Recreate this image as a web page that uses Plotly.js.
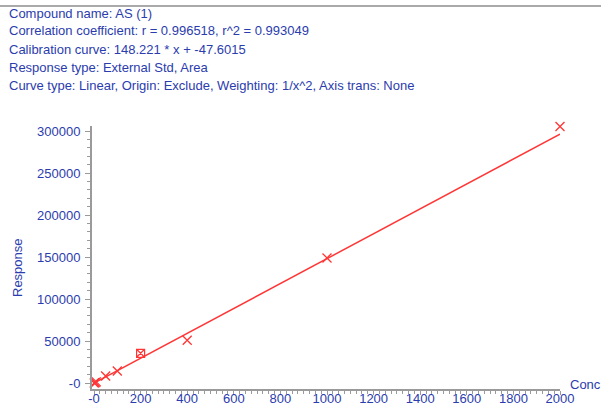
<!DOCTYPE html>
<html><head><meta charset="utf-8">
<script src="https://cdn.plot.ly/plotly-3.0.1.min.js"></script>
<style>html,body{margin:0;padding:0;background:#fff}#chart{width:601px;height:407px}</style>
</head><body><div id="chart"></div>
<script>
// Calibration standards
const conc = [1, 5, 10, 50, 100, 400, 1000, 2000];
const response = [180, 700, 1500, 8500, 14500, 51000, 149000, 305500];
// Point shown with square marker
const concSq = [200];
const respSq = [35500];
// Fitted calibration line endpoints (148.221 * x + -47.6015)
const fitX = [0, 2000];
const fitY = [-47.6015, 296394.4];
// Ticks
const xTickVals = [0, 200, 400, 600, 800, 1000, 1200, 1400, 1600, 1800, 2000];
const xTickText = ['-0', '200', '400', '600', '800', '1000', '1200', '1400', '1600', '1800', '2000'];
const yTickVals = [0, 50000, 100000, 150000, 200000, 250000, 300000];
const yTickText = ['-0', '50000', '100000', '150000', '200000', '250000', '300000'];
const headerLines = [
  'Compound name: AS (1)',
  'Correlation coefficient: r = 0.996518, r^2 = 0.993049',
  'Calibration curve: 148.221 * x + -47.6015',
  'Response type: External Std, Area',
  'Curve type: Linear, Origin: Exclude, Weighting: 1/x^2, Axis trans: None'
];

const BLUE = '#2b3cae';
const RED = '#ff3535';
const FONT = 'Liberation Sans, Arial, sans-serif';
// plot area in pixels
const L = 92, R = 560, T = 126, B = 389;
const px2paperX = p => (p - L) / (R - L);
const px2paperY = p => (B - p) / (B - T);

const annotations = headerLines.map((t, i) => ({
  text: t, xref: 'paper', yref: 'paper',
  x: px2paperX(7), y: px2paperY(13 + i * 18),
  xanchor: 'left', yanchor: 'middle', showarrow: false,
  font: {family: FONT, size: 13, color: BLUE}
}));
annotations.push({
  text: 'Conc', xref: 'paper', yref: 'paper',
  x: px2paperX(568), y: px2paperY(384), xanchor: 'left', yanchor: 'middle',
  showarrow: false, font: {family: FONT, size: 13, color: BLUE}
});
annotations.push({
  text: 'Response', xref: 'paper', yref: 'paper', textangle: -90,
  x: px2paperX(17), y: px2paperY(268), xanchor: 'center', yanchor: 'middle',
  showarrow: false, font: {family: FONT, size: 13, color: BLUE}
});

const traces = [
  {x: fitX, y: fitY, mode: 'lines', line: {color: RED, width: 1.5}, hoverinfo: 'skip', cliponaxis: false},
  {x: conc, y: response, mode: 'markers', cliponaxis: false,
   marker: {symbol: 'x-thin-open', size: 9, line: {color: RED, width: 1.3}, color: RED}},
  {x: concSq, y: respSq, mode: 'markers', cliponaxis: false,
   marker: {symbol: 'square-x-open', size: 8, line: {color: RED, width: 1.2}, color: RED}}
];

const layout = {
  width: 601, height: 407,
  margin: {l: L, r: 601 - R, t: T, b: 407 - B, pad: 0},
  paper_bgcolor: '#fff', plot_bgcolor: '#fff',
  showlegend: false,
  xaxis: {
    range: [-8.6, 2000], showgrid: false, zeroline: false,
    showline: true, linecolor: '#9a9a9a', linewidth: 2,
    ticks: 'outside', ticklen: 4, tickcolor: '#9a9a9a', tickwidth: 1,
    ticklabelstandoff: -8,
    tickvals: xTickVals, ticktext: xTickText,
    tickfont: {family: FONT, size: 13, color: BLUE},
    minor: {dtick: 25, ticks: 'outside', ticklen: 3, tickcolor: '#9a9a9a', showgrid: false}
  },
  yaxis: {
    range: [-7000, 306000], showgrid: false, zeroline: false,
    showline: true, linecolor: '#9a9a9a', linewidth: 2,
    ticks: 'outside', ticklen: 5, tickcolor: '#9a9a9a', tickwidth: 1,
    ticklabelstandoff: 2,
    tickvals: yTickVals, ticktext: yTickText,
    tickfont: {family: FONT, size: 13, color: BLUE},
    minor: {dtick: 10000, ticks: 'outside', ticklen: 3, tickcolor: '#9a9a9a', showgrid: false}
  },
  annotations: annotations,
  shapes: [{type: 'line', xref: 'paper', yref: 'paper',
    x0: px2paperX(0), x1: px2paperX(601), y0: px2paperY(6), y1: px2paperY(6),
    line: {color: '#aaaaaa', width: 2}}]
};

Plotly.newPlot('chart', traces, layout, {displayModeBar: false, staticPlot: true});
</script>
</body></html>
